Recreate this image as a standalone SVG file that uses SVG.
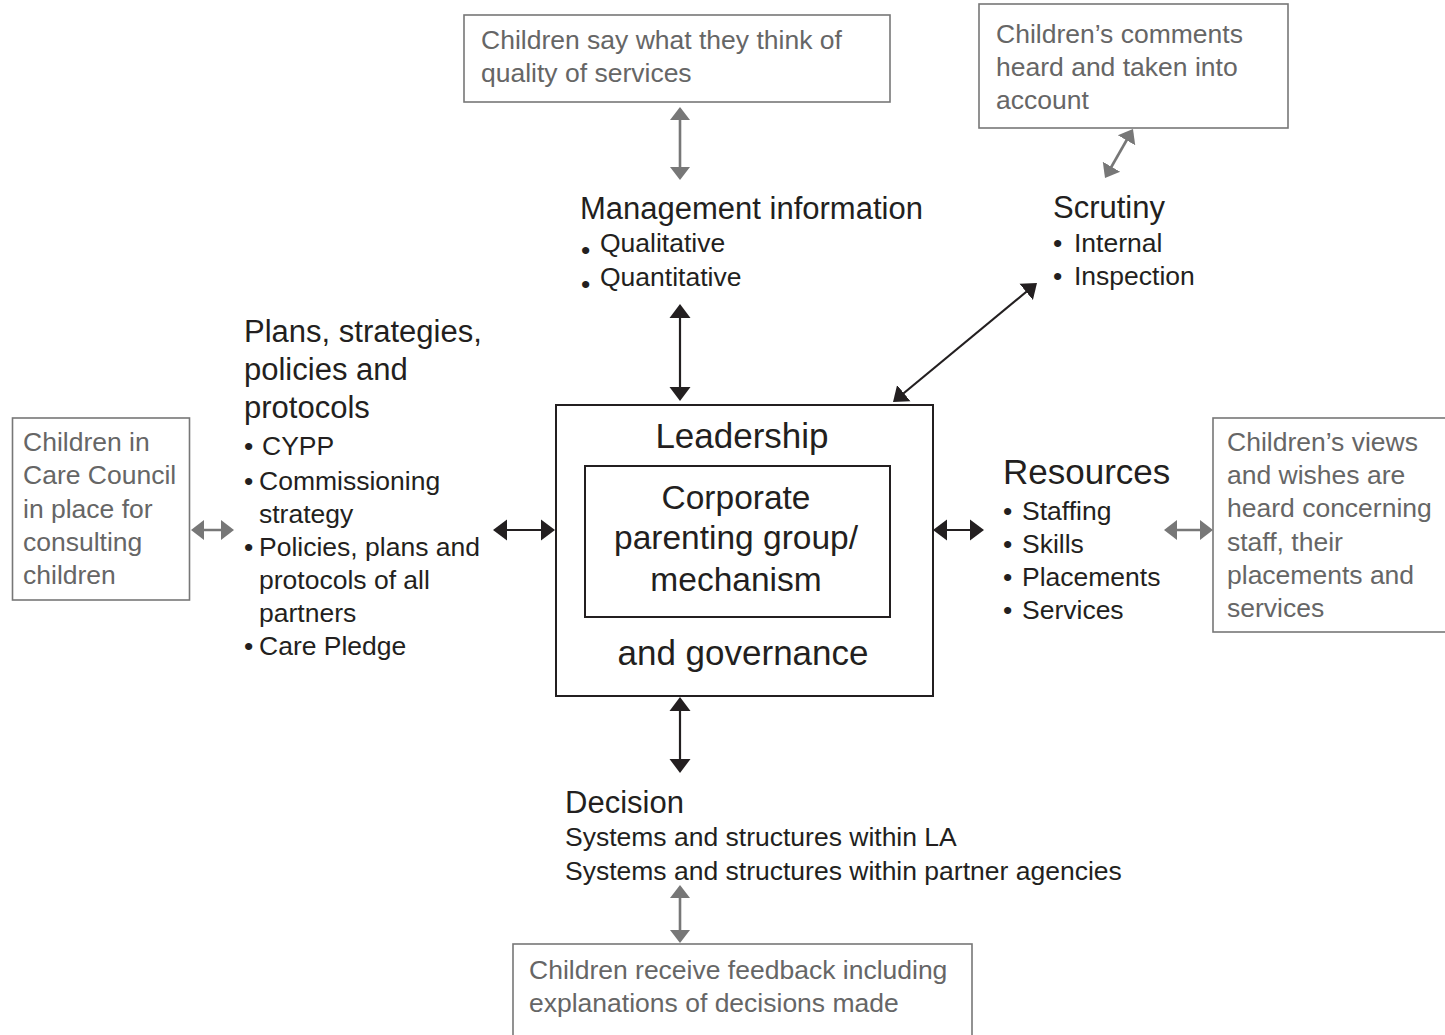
<svg xmlns="http://www.w3.org/2000/svg" width="1445" height="1035" viewBox="0 0 1445 1035">
  <style>
    text { font-family: "Liberation Sans", Arial, Helvetica, sans-serif; }
    .dark { fill: #231f20; }
    .grey { fill: #666666; font-size: 26.5px; }
    .body { font-size: 26.5px; }
    .head { font-size: 31px; }
    .big { font-size: 35px; }
    .mid { font-size: 33.5px; }
    .gbox { fill: #ffffff; stroke: #777777; stroke-width: 1.6; }
    .kbox { fill: none; stroke: #231f20; stroke-width: 2; }
    .kline { stroke: #231f20; stroke-width: 2.2; fill: none; marker-start: url(#headK); marker-end: url(#headK); }
    .gline { stroke: #777777; stroke-width: 2.6; fill: none; marker-start: url(#headG); marker-end: url(#headG); }
  </style>
  <defs>
    <marker id="headK" markerUnits="userSpaceOnUse" viewBox="0 -11 14 22" refX="10" refY="0" markerWidth="14" markerHeight="22" orient="auto-start-reverse">
      <path d="M0,-10.5 L14,0 L0,10.5 z" fill="#231f20"/>
    </marker>
    <marker id="headG" markerUnits="userSpaceOnUse" viewBox="0 -11 13 22" refX="9" refY="0" markerWidth="13" markerHeight="22" orient="auto-start-reverse">
      <path d="M0,-10 L13,0 L0,10 z" fill="#777777"/>
    </marker>
  </defs>

  <rect width="1445" height="1035" fill="#ffffff"/>

  <!-- connectors -->
  <g id="connectors">
    <line class="gline" x1="680" y1="111" x2="680" y2="176"/>
    <line class="gline" x1="1131" y1="132.5" x2="1107" y2="174.5"/>
    <line class="gline" x1="195" y1="530" x2="230" y2="530"/>
    <line class="gline" x1="1168" y1="530" x2="1209" y2="530"/>
    <line class="gline" x1="680" y1="889" x2="680" y2="939"/>
    <line class="kline" x1="680" y1="308" x2="680" y2="397"/>
    <line class="kline" x1="680" y1="701" x2="680" y2="769"/>
    <line class="kline" x1="497" y1="530" x2="551" y2="530"/>
    <line class="kline" x1="937" y1="530" x2="980" y2="530"/>
    <line class="kline" x1="896.1" y1="399.5" x2="1033.9" y2="285.5"/>
  </g>

  <!-- children's voice boxes -->
  <g id="say-quality">
    <rect class="gbox" x="464" y="15" width="426" height="87"/>
    <text class="grey" x="481" y="49">Children say what they think of</text>
    <text class="grey" x="481" y="82">quality of services</text>
  </g>
  <g id="comments-heard">
    <rect class="gbox" x="979" y="4" width="309" height="124"/>
    <text class="grey" x="996" y="43">Children’s comments</text>
    <text class="grey" x="996" y="76">heard and taken into</text>
    <text class="grey" x="996" y="109">account</text>
  </g>
  <g id="care-council">
    <rect class="gbox" x="12.5" y="418" width="177" height="182"/>
    <text class="grey" x="23" y="451">Children in</text>
    <text class="grey" x="23" y="484">Care Council</text>
    <text class="grey" x="23" y="518">in place for</text>
    <text class="grey" x="23" y="551">consulting</text>
    <text class="grey" x="23" y="584">children</text>
  </g>
  <g id="views-wishes">
    <rect class="gbox" x="1213" y="418" width="240" height="214"/>
    <text class="grey" x="1227" y="451">Children’s views</text>
    <text class="grey" x="1227" y="484">and wishes are</text>
    <text class="grey" x="1227" y="517">heard concerning</text>
    <text class="grey" x="1227" y="551">staff, their</text>
    <text class="grey" x="1227" y="584">placements and</text>
    <text class="grey" x="1227" y="617">services</text>
  </g>
  <g id="feedback">
    <rect class="gbox" x="513" y="944" width="459" height="100"/>
    <text class="grey" x="529" y="979">Children receive feedback including</text>
    <text class="grey" x="529" y="1012">explanations of decisions made</text>
  </g>

  <!-- labelled areas around the centre -->
  <g id="management-information" class="dark">
    <text class="head" x="580" y="219">Management information</text>
    <text class="body" x="581" y="259">•</text>
    <text class="body" x="600" y="252">Qualitative</text>
    <text class="body" x="581" y="293">•</text>
    <text class="body" x="600" y="286">Quantitative</text>
  </g>
  <g id="scrutiny" class="dark">
    <text class="head" x="1053" y="218">Scrutiny</text>
    <text class="body" x="1053" y="252">•</text>
    <text class="body" x="1074" y="252">Internal</text>
    <text class="body" x="1053" y="285">•</text>
    <text class="body" x="1074" y="285">Inspection</text>
  </g>
  <g id="plans" class="dark">
    <text class="head" x="244" y="342">Plans, strategies,</text>
    <text class="head" x="244" y="380">policies and</text>
    <text class="head" x="244" y="418">protocols</text>
    <text class="body" x="244" y="455">•</text>
    <text class="body" x="262" y="455">CYPP</text>
    <text class="body" x="244" y="490">•</text>
    <text class="body" x="259" y="490">Commissioning</text>
    <text class="body" x="259" y="523">strategy</text>
    <text class="body" x="244" y="556">•</text>
    <text class="body" x="259" y="556">Policies, plans and</text>
    <text class="body" x="259" y="589">protocols of all</text>
    <text class="body" x="259" y="622">partners</text>
    <text class="body" x="244" y="655">•</text>
    <text class="body" x="259" y="655">Care Pledge</text>
  </g>
  <g id="resources" class="dark">
    <text class="big" x="1003" y="484">Resources</text>
    <text class="body" x="1003" y="520">•</text>
    <text class="body" x="1022" y="520">Staffing</text>
    <text class="body" x="1003" y="553">•</text>
    <text class="body" x="1022" y="553">Skills</text>
    <text class="body" x="1003" y="586">•</text>
    <text class="body" x="1022" y="586">Placements</text>
    <text class="body" x="1003" y="619">•</text>
    <text class="body" x="1022" y="619">Services</text>
  </g>
  <g id="decision" class="dark">
    <text class="head" x="565" y="813">Decision</text>
    <text class="body" x="565" y="846">Systems and structures within LA</text>
    <text class="body" x="565" y="880">Systems and structures within partner agencies</text>
  </g>

  <!-- central leadership box -->
  <g id="leadership" class="dark">
    <rect class="kbox" x="556" y="405" width="377" height="291"/>
    <text class="big" x="742" y="448" text-anchor="middle">Leadership</text>
    <text class="big" x="743" y="665" text-anchor="middle">and governance</text>
  </g>
  <g id="corporate-parenting" class="dark">
    <rect class="kbox" x="585" y="466" width="305" height="151" stroke-width="1.6"/>
    <text class="mid" x="736" y="509" text-anchor="middle">Corporate</text>
    <text class="mid" x="736" y="549" text-anchor="middle">parenting group/</text>
    <text class="mid" x="736" y="591" text-anchor="middle">mechanism</text>
  </g>
</svg>
